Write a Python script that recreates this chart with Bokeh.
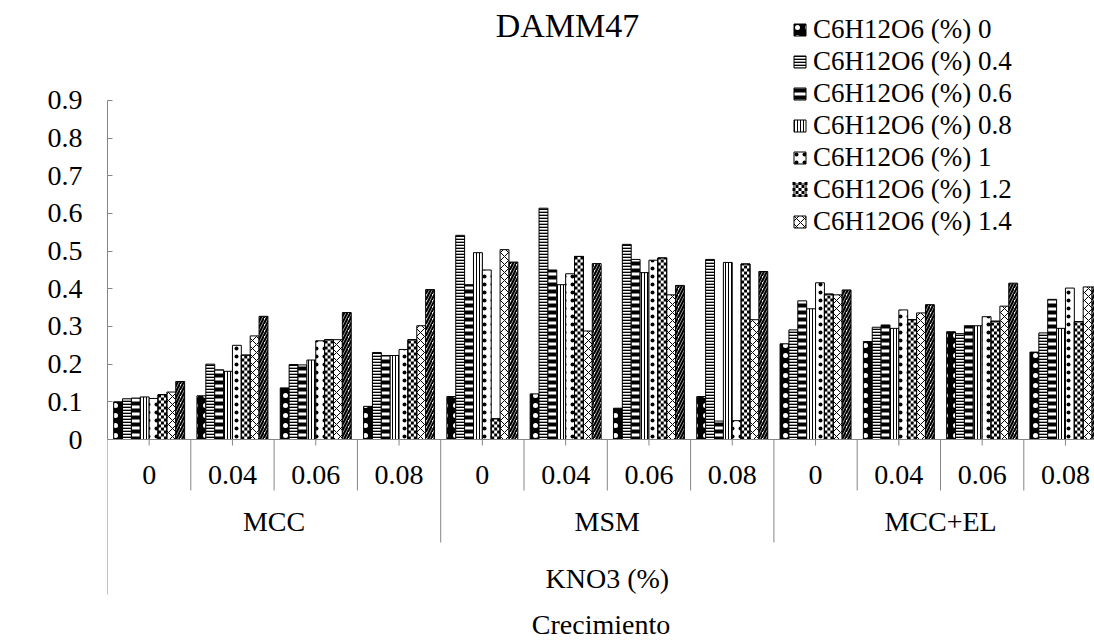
import numpy as np
from bokeh.plotting import figure
from bokeh.models import (Range1d, FixedTicker, NumeralTickFormatter, Legend,
                          LegendItem, Label, Span)
from bokeh.core.properties import value
from bokeh.embed import file_html
from bokeh.resources import INLINE

# ---- data -----------------------------------------------------------------
media = ["MCC", "MSM", "MCC+EL"]
kno3 = ["0", "0.04", "0.06", "0.08"]
glucose = ["0", "0.4", "0.6", "0.8", "1", "1.2", "1.4", "1.6"]

# absorbance at 630 nm, one list per glucose level, ordered medium x KNO3
abs_g00 = [0.100, 0.116, 0.137, 0.088, 0.114, 0.121, 0.083, 0.114, 0.254, 0.260, 0.286, 0.232]
abs_g04 = [0.108, 0.200, 0.199, 0.231, 0.542, 0.614, 0.518, 0.478, 0.291, 0.298, 0.281, 0.283]
abs_g06 = [0.110, 0.185, 0.198, 0.223, 0.411, 0.450, 0.478, 0.049, 0.368, 0.304, 0.302, 0.372]
abs_g08 = [0.113, 0.181, 0.211, 0.223, 0.496, 0.411, 0.443, 0.470, 0.347, 0.295, 0.302, 0.295]
abs_g10 = [0.109, 0.250, 0.262, 0.239, 0.450, 0.440, 0.476, 0.050, 0.416, 0.344, 0.326, 0.402]
abs_g12 = [0.119, 0.224, 0.265, 0.265, 0.055, 0.486, 0.482, 0.466, 0.386, 0.318, 0.314, 0.313]
abs_g14 = [0.126, 0.275, 0.265, 0.302, 0.504, 0.288, 0.384, 0.318, 0.384, 0.336, 0.354, 0.405]
abs_g16 = [0.154, 0.327, 0.337, 0.398, 0.471, 0.467, 0.409, 0.446, 0.397, 0.358, 0.415, 0.405]
series = [abs_g00, abs_g04, abs_g06, abs_g08, abs_g10, abs_g12, abs_g14, abs_g16]
y_ticks = [0, 0.1, 0.2, 0.3, 0.4, 0.5, 0.6, 0.7, 0.8, 0.9]

# ---- layout ---------------------------------------------------------------
W, H = 1094, 640
LEFT = 107          # left edge of the plotting frame (px)
ZERO_Y = 439        # pixel row of A = 0
GROUP_PX = 83.3     # width of one KNO3 category (px)
UNIT_PX = 376.7     # pixels per absorbance unit
FONT = "'Liberation Serif'"
GREY = "#868686"
CHECKER = 5         # series drawn with a checkerboard fill
CELL_PX = 3.0       # checkerboard square size

# legend geometry (px)
LEG_X, LEG_TOP, ROW_H, SWATCH = 792, 13, 32, 15
N_LEG = 7


def gx(px):
    return (px - LEFT) / GROUP_PX


def gy(py):
    return (ZERO_Y - py) / UNIT_PX


# fill colour, pattern colour, pattern, tile size, line weight
patterns = [
    ("black", "white", ".", 10, 1),
    ("white", "black", "-", 3, 1.7),
    ("white", "black", "-", 7, 4),
    ("white", "black", "|", 3, 1),
    ("white", "black", ".", 8, 2),
    ("white", "black", None, 6, 1),
    ("white", "black", "x", 8, 1),
    ("white", "black", "/", 6, 2.2),
]

n_groups = len(media) * len(kno3)
p = figure(width=W, height=H, output_backend="svg", toolbar_location=None,
           x_range=Range1d(0, (W - LEFT) / GROUP_PX),
           y_range=Range1d(gy(H), gy(0)),
           x_axis_location=None, y_axis_location="left",
           min_border=0, min_border_left=LEFT)
p.outline_line_color = None
p.grid.visible = False
p.background_fill_color = "white"
p.border_fill_color = "white"

yax = p.yaxis[0]
yax.ticker = FixedTicker(ticks=y_ticks)
yax.formatter = NumeralTickFormatter(format="0.[0]")
yax.bounds = (0, 0.9)
yax.axis_line_color = GREY
yax.major_tick_line_color = GREY
yax.major_tick_in = 5
yax.major_tick_out = 0
yax.minor_tick_line_color = None
yax.major_label_standoff = 25
yax.major_label_text_font = FONT
yax.major_label_text_font_size = "28px"
yax.major_label_text_color = "black"

# ---- bars -----------------------------------------------------------------
group_centres = np.arange(n_groups) + 0.5
bar_w = 0.852 / len(series)
bar_x = [group_centres + (k - (len(series) - 1) / 2) * bar_w for k in range(len(series))]
renderers = []
for k, (vals, (fill, hcol, pat, scale, weight)) in enumerate(zip(series, patterns)):
    r = p.vbar(x=bar_x[k], top=vals, bottom=0, width=bar_w,
               fill_color=fill, line_color="black", line_width=1,
               hatch_pattern=pat, hatch_scale=scale, hatch_weight=weight,
               hatch_color=hcol)
    renderers.append(r)

# checkerboard squares for the 1.2 % series, clipped to each bar
cell_h = CELL_PX / UNIT_PX
n_col = 3
cell_w = bar_w / n_col
cl, cr, cb, ct = [], [], [], []
for xc, top in zip(bar_x[CHECKER], series[CHECKER]):
    x_left = xc - bar_w / 2
    for row in range(int(np.ceil(top / cell_h))):
        y0 = row * cell_h
        y1 = min(top, y0 + cell_h)
        for col in range(n_col):
            if (row + col) % 2 == 0:
                cl.append(x_left + col * cell_w)
                cr.append(x_left + (col + 1) * cell_w)
                cb.append(y0)
                ct.append(y1)

# the same checkerboard inside the legend swatch of that series
sw_top = LEG_TOP + CHECKER * ROW_H + (ROW_H - SWATCH) / 2
n_sw = int(SWATCH / CELL_PX)
for row in range(n_sw):
    for col in range(n_sw):
        if (row + col) % 2 == 0:
            cl.append(gx(LEG_X + col * CELL_PX))
            cr.append(gx(LEG_X + (col + 1) * CELL_PX))
            ct.append(gy(sw_top + row * CELL_PX))
            cb.append(gy(sw_top + (row + 1) * CELL_PX))
p.quad(left=cl, right=cr, bottom=cb, top=ct, fill_color="black", line_color=None)

checker_outline = p.vbar(x=bar_x[CHECKER], top=series[CHECKER], bottom=0, width=bar_w,
                         fill_color=None, line_color="black", line_width=1)
legend_renderers = list(renderers)
legend_renderers[CHECKER] = checker_outline

p.add_layout(Span(location=0, dimension="width", line_color=GREY, line_width=1))

# ---- multi-level category axis ---------------------------------------------
bx0, by0, bx1, by1 = [], [], [], []
for i in range(n_groups + 1):
    if i == 0:
        depth = 594
    elif i % len(kno3) == 0:
        depth = 542
    else:
        depth = 490
    bx0.append(i); bx1.append(i); by0.append(0); by1.append(gy(depth))
for c in group_centres:
    bx0.append(c); bx1.append(c); by0.append(0); by1.append(gy(445))
p.segment(x0=bx0, y0=by0, x1=bx1, y1=by1, line_color=GREY, line_width=1)

lvl1_x = list(group_centres)
lvl1_t = [k for _ in media for k in kno3]
p.text(x=lvl1_x, y=[gy(474)] * n_groups, text=lvl1_t,
       text_font=value(FONT), text_font_size=value("28px"),
       text_align="center", text_baseline="middle", text_color="black")

lvl2_x = [m * len(kno3) + len(kno3) / 2 for m in range(len(media))]
p.text(x=lvl2_x, y=[gy(521)] * len(media), text=media,
       text_font=value(FONT), text_font_size=value("28px"),
       text_align="center", text_baseline="middle", text_color="black")

p.text(x=[n_groups / 2], y=[gy(578)], text=["KNO3 (%)"],
       text_font=value(FONT), text_font_size=value("28px"),
       text_align="center", text_baseline="middle", text_color="black")

p.text(x=[(W - LEFT) / GROUP_PX / 2], y=[gy(624)], text=["Crecimiento"],
       text_font=value(FONT), text_font_size=value("28px"),
       text_align="center", text_baseline="middle", text_color="black")

# ---- titles -----------------------------------------------------------------
p.add_layout(Label(x=gx(567), y=gy(25), text="DAMM47", text_font=FONT,
                   text_font_size="34px", text_align="center",
                   text_baseline="middle", text_color="black"))
p.add_layout(Label(x=gx(23), y=gy(258), text="A (630nm)", angle=np.pi / 2,
                   text_font=FONT, text_font_size="28px", text_align="center",
                   text_baseline="middle", text_color="black"))

# ---- legend -------------------------------------------------------------------
legend = Legend(
    items=[LegendItem(label="C6H12O6 (%) " + g, renderers=[r])
           for g, r in zip(glucose[:N_LEG], legend_renderers[:N_LEG])],
    location=(LEG_X - LEFT, H - LEG_TOP - ROW_H * N_LEG),
    orientation="vertical", spacing=0, padding=0, margin=0,
    glyph_width=SWATCH, glyph_height=SWATCH, label_standoff=6,
    label_height=ROW_H, label_text_font=FONT, label_text_font_size="27px",
    label_text_color="black", border_line_color=None,
    background_fill_alpha=0,
)
p.add_layout(legend)

open("out.html", "w").write(file_html(p, INLINE))
